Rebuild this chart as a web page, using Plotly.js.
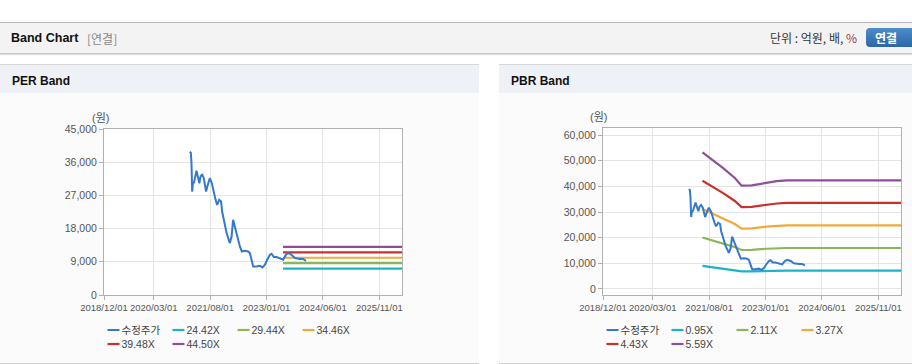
<!DOCTYPE html>
<html><head><meta charset="utf-8">
<script src="https://cdn.plot.ly/plotly-3.0.1.min.js"></script>
<style>
html,body{margin:0;padding:0;background:#fff;width:912px;height:364px;overflow:hidden;font-family:"Liberation Sans",Arial,"Noto Sans CJK KR",sans-serif;}
#top{position:absolute;left:0;top:22px;width:912px;height:30px;background:#f3f3f3;border-top:1px solid #b8b8b8;border-bottom:1px solid #c4c4c4;box-shadow:0 1px 1px rgba(0,0,0,0.12);}
#top .t{position:absolute;left:11px;top:8px;font-weight:bold;font-size:12.5px;color:#111;}
#top .s{position:absolute;left:87px;top:7px;font-size:12px;color:#888;font-family:"Noto Sans CJK KR",sans-serif;line-height:18px;}
#top .u{position:absolute;left:770px;top:6px;font-size:12px;color:#333;font-family:"Noto Sans CJK KR",sans-serif;line-height:18px;}
#top .u em{font-style:normal;color:#a3344a;}
#top .b{position:absolute;left:866px;top:5px;width:50px;height:19px;border-radius:4px;background:linear-gradient(#4d8ccb,#2c66a6);color:#fff;font-weight:bold;font-size:12px;font-family:"Noto Sans CJK KR",sans-serif;line-height:19px;text-indent:9px;}
.panel{position:absolute;top:64px;height:298px;background:#fbfbfb;border-top:1px solid #d6d6d6;border-bottom:1px solid #cfcfcf;}
.panel .h{height:28px;background:#eef2f7;}
.panel .h span{position:absolute;left:12px;top:9px;font-weight:bold;font-size:12px;color:#111;}
.chart{position:absolute;left:0;top:28px;}
</style></head>
<body>
<div id="top"><span class="t">Band Chart</span><span class="s">[연결]</span><span class="u">단위 : 억원, 배, <em>%</em></span><span class="b">연결</span></div>
<div class="panel" style="left:0;width:479px;"><div class="h"><span>PER Band</span></div><div id="per" class="chart" style="width:479px;height:269px;"></div></div>
<div class="panel" style="left:499px;width:413px;"><div class="h"><span>PBR Band</span></div><div id="pbr" class="chart" style="width:413px;height:269px;"></div></div>
<script>
// ---- data ----
const priceName = '수정주가';
const priceDates = ['2021-01-26','2021-02-05','2021-02-11','2021-02-17','2021-02-24','2021-03-06','2021-03-29','2021-04-10','2021-04-24','2021-05-05','2021-05-19','2021-06-04','2021-06-25','2021-07-08','2021-07-29','2021-08-17','2021-08-29','2021-09-20','2021-10-04','2021-10-23','2021-11-10','2021-11-19','2021-12-05','2021-12-30','2022-01-29','2022-02-14','2022-02-28','2022-03-16','2022-04-06','2022-05-01','2022-05-19','2022-06-16','2022-07-16','2022-08-01','2022-08-16','2022-08-31','2022-10-01','2022-11-01','2022-11-25','2022-12-17','2023-01-07','2023-02-01','2023-02-16','2023-03-09','2023-04-03','2023-05-03','2023-06-03','2023-06-28','2023-07-19','2023-08-19','2023-09-18','2023-11-03','2023-12-04','2023-12-28'];
const priceValues = [38860,38590,35720,28030,30300,30470,33720,32090,30300,32090,32740,31660,28030,29600,31660,30310,28490,25790,24430,25790,25330,22620,20380,16780,14070,15860,20380,18560,15860,13150,11800,11990,11800,11370,9550,7740,7740,7930,7470,8200,9550,10910,11180,10280,10280,10010,9550,10910,11370,10910,10010,9740,9740,9200];

const perBandNames = ['24.42X','29.44X','34.46X','39.48X','44.50X'];
const perBandDates = ['2023-06-01','2026-05-28'];
const perBand24 = [7150,7150];
const perBand29 = [8630,8630];
const perBand34 = [10100,10100];
const perBand39 = [11570,11570];
const perBand44 = [13040,13040];

const pbrBandNames = ['0.95X','2.11X','3.27X','4.43X','5.59X'];
const pbrBandDates = ['2021-06-01','2021-08-08','2021-12-08','2022-03-25','2022-05-26','2022-08-26','2023-01-10','2023-04-12','2023-07-13','2026-05-28'];
const pbrBand095 = [9040,8670,8010,7350,6840,6860,7060,7140,7190,7190];
const pbrBand211 = [20090,19260,17790,16330,15190,15230,15680,15870,15970,15970];
const pbrBand327 = [31130,29860,27570,25310,23540,23610,24300,24590,24750,24750];
const pbrBand443 = [42170,40450,37350,34290,31900,31990,32920,33310,33540,33540];
const pbrBand559 = [53220,51040,47120,43270,40250,40360,41530,42040,42320,42320];

const xTickVals = ['2018-12-01','2020-03-01','2021-08-01','2023-01-01','2024-06-01','2025-11-01'];
const xTickText = ['2018/12/01','2020/03/01','2021/08/01','2023/01/01','2024/06/01','2025/11/01'];
const xRange = ['2018-12-01','2026-05-28'];
const perYTicks = [0,9000,18000,27000,36000,45000];
const pbrYTicks = [0,10000,20000,30000,40000,50000,60000];
const unitLabel = '(원)';

// ---- style ----
const colors = ['#3479cc','#1db3c7','#8db55a','#f2a93b','#c8322c','#8f4f98'];
const FONT = '"Liberation Sans", Arial, "Noto Sans CJK KR", sans-serif';

function line(name, x, y, c, w){
  return {type:'scatter', mode:'lines', name:name, x:x, y:y, line:{color:c, width:w||2}, hoverinfo:'skip'};
}
function baseLayout(yr, yt){
  return {
    width:0, height:269,
    margin:{l:104.3, r:0, t:36, b:66.7},
    paper_bgcolor:'#fbfbfb', plot_bgcolor:'#ffffff',
    font:{family:FONT, size:10, color:'#555'},
    showlegend:true,
    legend:{orientation:'h', x:0.02, xanchor:'left', y:0.98, yanchor:'top', font:{family:FONT, size:10.5, color:'#444'}, bgcolor:'rgba(0,0,0,0)', traceorder:'normal'},
    xaxis:{type:'date', range:xRange, tickvals:xTickVals, ticktext:xTickText, showgrid:true, gridcolor:'#e4e4e4', gridwidth:1,
      showline:true, linecolor:'#b0b0b0', linewidth:1, mirror:true, ticks:'outside', ticklen:4, tickcolor:'#b0b0b0',
      tickfont:{family:FONT, size:9.5, color:'#555'}, zeroline:false, fixedrange:true, automargin:false},
    yaxis:{range:yr, tickvals:yt, tickformat:',d', showgrid:true, gridcolor:'#e4e4e4', gridwidth:1,
      showline:true, linecolor:'#b0b0b0', linewidth:1, mirror:true, ticks:'outside', ticklen:4, tickcolor:'#b0b0b0',
      tickfont:{family:FONT, size:10.5, color:'#555'}, zeroline:false, fixedrange:true, automargin:false},
    annotations:[{text:unitLabel, xref:'paper', yref:'paper', x:0, y:1, xanchor:'center', yanchor:'middle', xshift:-4, yshift:11, showarrow:false, font:{family:FONT, size:11, color:'#555'}}]
  };
}

const perTraces = [
  line(priceName, priceDates, priceValues, colors[0], 2),
  line(perBandNames[0], perBandDates, perBand24, colors[1], 2.2),
  line(perBandNames[1], perBandDates, perBand29, colors[2], 2.2),
  line(perBandNames[2], perBandDates, perBand34, colors[3], 2.2),
  line(perBandNames[3], perBandDates, perBand39, colors[4], 2.2),
  line(perBandNames[4], perBandDates, perBand44, colors[5], 2.2)
];
const pbrTraces = [
  line(priceName, priceDates, priceValues, colors[0], 2),
  line(pbrBandNames[0], pbrBandDates, pbrBand095, colors[1], 2.2),
  line(pbrBandNames[1], pbrBandDates, pbrBand211, colors[2], 2.2),
  line(pbrBandNames[2], pbrBandDates, pbrBand327, colors[3], 2.2),
  line(pbrBandNames[3], pbrBandDates, pbrBand443, colors[4], 2.2),
  line(pbrBandNames[4], pbrBandDates, pbrBand559, colors[5], 2.2)
];
perTraces.forEach((t,i)=>{t.legendrank = i+1;});
pbrTraces.forEach((t,i)=>{t.legendrank = i+1;});

const perLayout = baseLayout([0,45000], perYTicks);
perLayout.width = 479; perLayout.margin.r = 77;
const pbrLayout = baseLayout([-2340,62730], pbrYTicks);
pbrLayout.width = 413; pbrLayout.margin.r = 11; pbrLayout.margin.t = 35.3;
pbrLayout.annotations[0].xshift = -5;

// legend placement (page coords of first symbol start and first row centre)
function fixLegend(gd, pageX, pageY){
  const sb = gd.querySelector('.legend .scrollbox');
  if (sb) sb.removeAttribute('clip-path');
  const bg = gd.querySelector('.legend .bg');
  if (bg) bg.style.display = 'none';
  const items = gd.querySelectorAll('.legend .traces');
  items.forEach((g,i)=>{
    const col = i % 4, row = Math.floor(i/4);
    const m = g.parentNode.getScreenCTM();
    const tx = pageX + col*65 - m.e, ty = pageY + row*14 - m.f;
    g.setAttribute('transform', 'translate(' + tx + ',' + ty + ')');
    g.querySelectorAll('.legendlines path').forEach(p=>p.setAttribute('d','M0,0h12'));
    const t = g.querySelector('.legendtext'); if (t) t.setAttribute('x', 14);
  });
}
const cfg = {staticPlot:true, displayModeBar:false};
const order = [1,2,3,4,5,0];
Plotly.newPlot('per', order.map(i=>perTraces[i]), perLayout, cfg).then(gd=>fixLegend(gd, 107.5, 330));
Plotly.newPlot('pbr', order.map(i=>pbrTraces[i]), pbrLayout, cfg).then(gd=>fixLegend(gd, 606.5, 330));
</script>
</body></html>
